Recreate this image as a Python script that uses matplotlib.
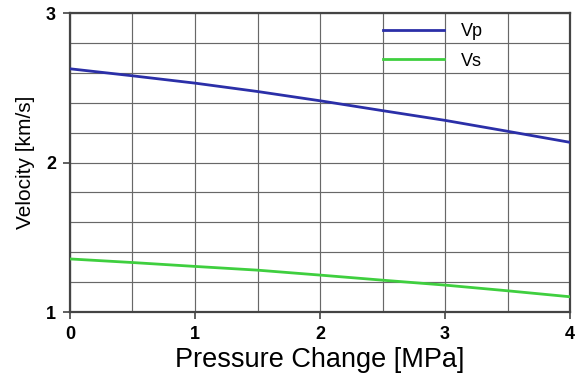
import numpy as np
import matplotlib
matplotlib.use("Agg")
import matplotlib.pyplot as plt

plt.rcParams['font.family'] = ['Liberation Sans', 'DejaVu Sans']

## pressure change samples and velocities
pressure = [0, 0.5, 1, 1.5, 2, 2.5, 3, 3.5, 4]
vp = [2.627, 2.58, 2.531, 2.475, 2.413, 2.347, 2.282, 2.209, 2.135]
vs = [1.355, 1.331, 1.305, 1.28, 1.247, 1.213, 1.18, 1.142, 1.102]

x_ticks = [0, 1, 2, 3, 4]
y_ticks = [1, 2, 3]

fig = plt.figure(figsize=(5.77, 3.73), dpi=100)
ax = fig.add_axes([0.1213, 0.1635, 0.8666, 0.8016])

ax.plot(pressure, vp, color='#2b2fa8', lw=2, label='Vp', zorder=3)
ax.plot(pressure, vs, color='#3fcf3f', lw=2, label='Vs', zorder=3)

ax.set_xlim(0, 4)
ax.set_ylim(1, 3)
ax.set_xticks(x_ticks)
ax.set_yticks(y_ticks)
ax.set_xticks(np.arange(0, 4.01, 0.5), minor=True)
ax.set_yticks(np.arange(1, 3.01, 0.2), minor=True)
ax.tick_params(which='minor', length=0)
ax.tick_params(which='major', length=5, width=1.2, color='#444444', labelsize=13, pad=5)
for lab in ax.get_xticklabels() + ax.get_yticklabels():
    lab.set_fontweight('bold')
ax.grid(which='both', color='#686868', lw=0.85)
ax.set_axisbelow(True)
for s in ax.spines.values():
    s.set_color('#444444')
    s.set_linewidth(1.6)

ax.set_xlabel('Pressure Change [MPa]', fontsize=19.5, labelpad=3)
ax.set_ylabel('Velocity [km/s]', fontsize=15, labelpad=8)

leg = ax.legend(loc='upper left', bbox_to_anchor=(0.626, 0.965), frameon=False,
                handlelength=3.4, fontsize=13, labelspacing=0.68, borderpad=0,
                borderaxespad=0, handletextpad=0.9)

fig.savefig('out.png', dpi=100)
